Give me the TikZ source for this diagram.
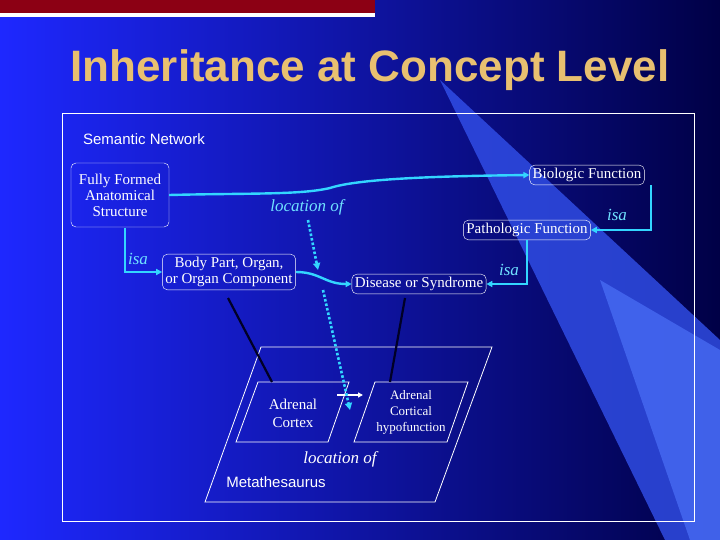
\documentclass[tikz,border=0pt]{standalone}
\usepackage{fontspec}
\setmainfont{Liberation Serif}
\setsansfont{Liberation Sans}
\usetikzlibrary{arrows.meta}
\definecolor{cy}{HTML}{33D6FF}
\definecolor{ttl}{HTML}{E8C070}
\begin{document}
\begin{tikzpicture}[x=1pt,y=-1pt,
 box/.style={draw=white,rounded corners=5pt,text=white,align=center,font=\fontsize{15}{16}\selectfont,inner sep=3pt},
 lbl/.style={text=cy!70!white,font=\itshape\fontsize{17}{18}\selectfont},
 cline/.style={cy,line width=2.4pt,-{Triangle[length=6pt,width=6pt]}},
 dline/.style={cy,line width=2.6pt,dotted,-{Triangle[length=7pt,width=7pt]}},
 wtxt/.style={text=white,align=center,font=\fontsize{15}{18}\selectfont}]
\useasboundingbox (0,0) rectangle (720,540);
\shade[left color={rgb,255:red,30;green,40;blue,255}, right color={rgb,255:red,0;green,0;blue,70}] (0,0) rectangle (720,540);
\fill[color={rgb,255:red,50;green,80;blue,235},opacity=0.8] (440,80) -- (720,340) -- (720,540) -- (665,540) -- cycle;
\fill[color={rgb,255:red,80;green,120;blue,255},opacity=0.6] (600,280) -- (720,350) -- (720,540) -- (690,540) -- cycle;
\fill[color={rgb,255:red,140;green,0;blue,20}] (0,0) rectangle (375,13);
\fill[white] (0,13) rectangle (375,17);
\node[text=ttl,font=\sffamily\bfseries\fontsize{44}{46}\selectfont] (title) at (370,70) {Inheritance at Concept Level};
\draw[white,line width=0.8pt] (62,113) rectangle (694,521);
\node[text=white,font=\sffamily\fontsize{15}{16}\selectfont] (sn) at (144,139) {Semantic Network};
\node[box,minimum width=98pt,minimum height=64pt] (ffas) at (120,195) {Fully Formed\\Anatomical\\Structure};
\node[box] (bf) at (587,175) {Biologic Function};
\node[box] (pf) at (527,230) {Pathologic Function};
\node[box] (bp) at (229,272) {Body Part, Organ,\\or Organ Component};
\node[box] (ds) at (419,284) {Disease or Syndrome};
\draw[cline] (ffas.east) .. controls (250,193) and (300,195) .. (330,188) .. controls (360,178) and (450,176) .. (bf.west);
\draw[cline] (bf.south -| 651,0) |- (pf.east);
\node[lbl] (isa1) at (617,215) {isa};
\draw[cline] (pf.south) |- (ds.east);
\node[lbl] (isa2) at (509,270) {isa};
\draw[cline] (125,228) |- (bp.west);
\node[lbl] (isa3) at (138,259) {isa};
\draw[cline] (bp.east) .. controls (320,272) and (325,284) .. (ds.west);
\node[lbl] (loc1) at (307,207) {location of};
\coordinate (d1a) at (308,220);
\coordinate (d1b) at (318,270);
\draw[dline] (d1a) -- (d1b);
\draw[white,line width=0.8pt] (261,347) -- (492,347) -- (435,502) -- (205,502) -- cycle;
\draw[white,line width=0.8pt] (258,382) -- (349,382) -- (328,442) -- (236,442) -- cycle;
\draw[white,line width=0.8pt] (375,382) -- (468,382) -- (447,442) -- (354,442) -- cycle;
\node[wtxt] (ac) at (293,413) {Adrenal\\Cortex};
\node[wtxt,font=\fontsize{13}{16}\selectfont] (ach) at (411,412) {Adrenal\\Cortical\\hypofunction};
\coordinate (acr) at (337,395);
\coordinate (achl) at (363,395);
\draw[white,line width=1.5pt,-{Triangle[length=5pt,width=5pt]}] (acr) -- (achl);
\coordinate (d2a) at (323,290);
\coordinate (d2b) at (350,410);
\draw[dline] (d2a) -- (d2b);
\coordinate (acTop) at (272,382);
\coordinate (achTop) at (390,382);
\draw[black!85!blue,line width=2.2pt] (228,298) -- (acTop);
\draw[black!85!blue,line width=2.2pt] (405,298) -- (achTop);
\node[text=white,font=\itshape\fontsize{17}{18}\selectfont] (loc2) at (340,459) {location of};
\node[text=white,font=\sffamily\fontsize{15}{16}\selectfont] (meta) at (276,482) {Metathesaurus};
\end{tikzpicture}
\end{document}
